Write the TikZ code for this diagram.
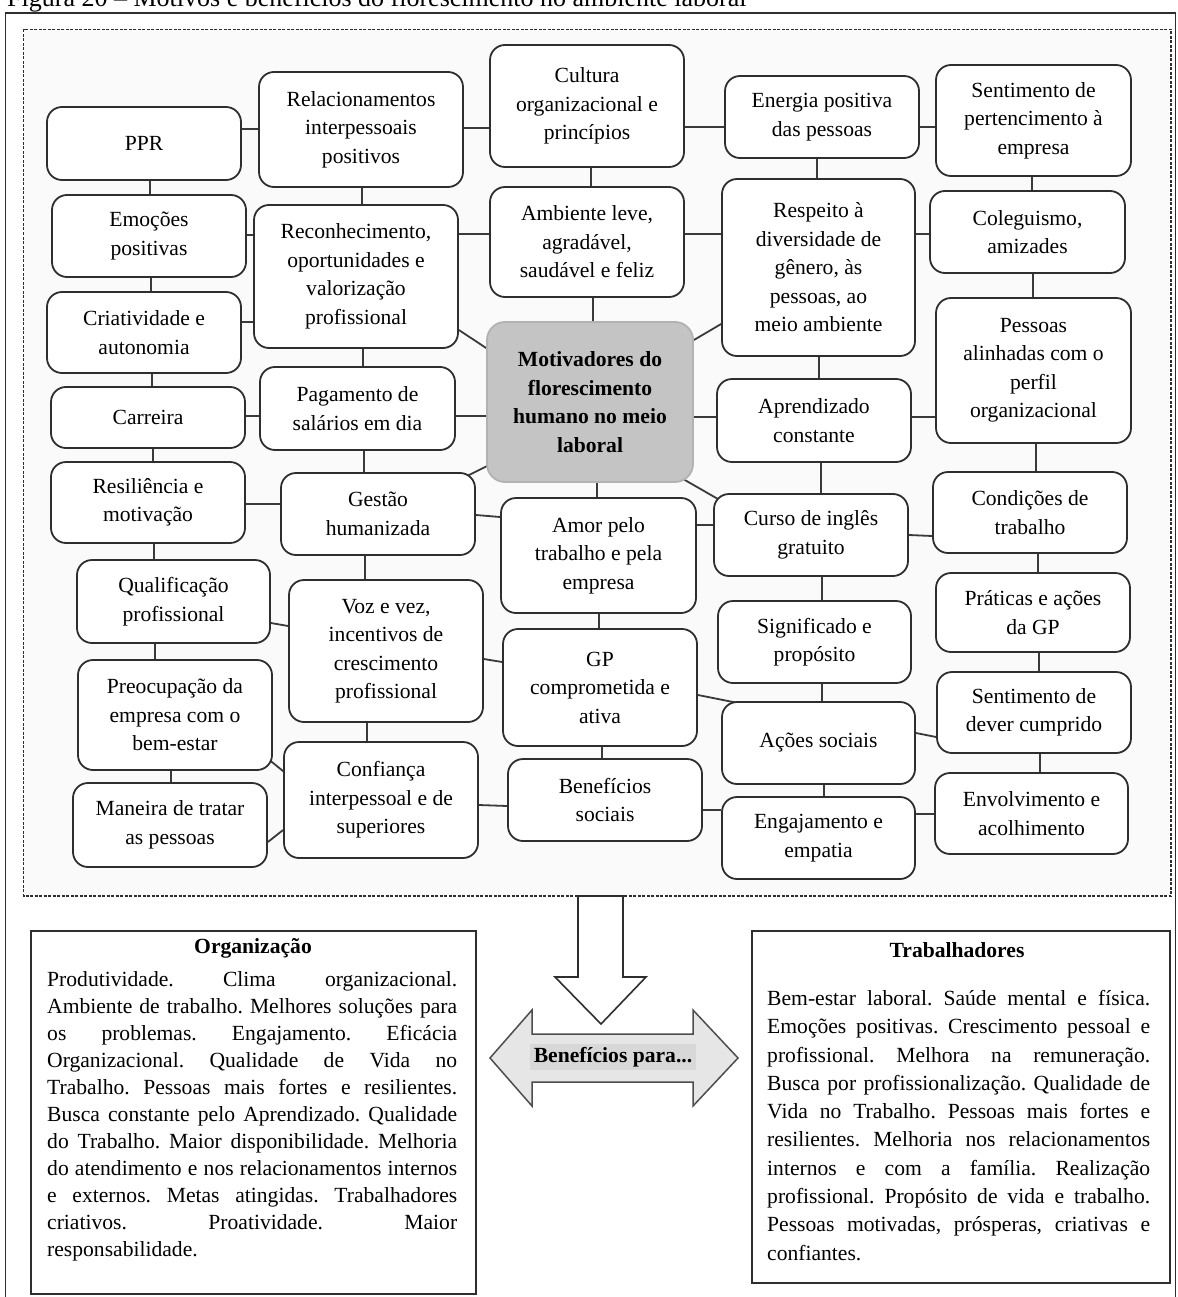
\documentclass[tikz,border=0pt]{standalone}
\usepackage{fontspec}
\setmainfont{Liberation Serif}
\usetikzlibrary{calc}

\definecolor{ink}{HTML}{2E2E2E}
\definecolor{linkc}{HTML}{3A3A3A}
\definecolor{hub}{HTML}{C4C4C4}
\definecolor{hubedge}{HTML}{B2B2B2}
\definecolor{panel}{HTML}{FAFAFA}
\definecolor{arrowfill}{HTML}{E6E6E6}
\definecolor{labelfill}{HTML}{D8D8D8}

\pgfdeclarelayer{back}
\pgfdeclarelayer{links}
\pgfsetlayers{back,links,main}

\tikzset{
  item/.style={draw=ink, line width=1.8pt, rounded corners=15pt, fill=white,
    align=center, inner sep=0pt, font=\fontsize{21.6}{28.5}\selectfont},
  hubbox/.style={item, draw=hubedge, fill=hub, rounded corners=18pt,
    font=\fontsize{21.6}{28.5}\selectfont\bfseries},
  link/.style={draw=linkc, line width=1.8pt},
  panelbox/.style={draw=ink, line width=1.8pt, fill=white, inner sep=0pt},
  bodytext/.style={anchor=north west, inner sep=0pt, align=left},
}

% \boxat[style]{name}{x1}{y1}{x2}{y2}{text}
\newcommand\boxat[7][item]{%
  \node[#1, minimum width={(#5-#3)*1pt}, minimum height={(#6-#4)*1pt}]
    (#2) at ({(#3+#5)/2},{(#4+#6)/2}) {#7};}

% one fully justified line of a given width
\newcommand\fullline[2]{\makebox[#1][s]{\frenchspacing
  \spaceskip=.25em plus 8em minus .05em\relax\xspaceskip=\spaceskip #2}}

\begin{document}
\begin{tikzpicture}[x=1pt,y=-1pt]
\useasboundingbox (0,0) rectangle (1177,1297);

% caption, running off the top edge
\node[anchor=base west, inner sep=0pt, font=\fontsize{26}{30}\selectfont]
  (caption) at (7,7) {Figura 20 -- Motivos e benefícios do florescimento no ambiente laboral};

% frames
\begin{pgfonlayer}{back}
  \draw[ink, line width=1.5pt] (5.5,1320) -- (5.5,13) -- (1175.5,13) -- (1175.5,1320);
  \draw[ink, line width=1.2pt, dash pattern=on 3pt off 1.5pt, fill=panel]
    (23.5,29.5) rectangle (1171,896);
\end{pgfonlayer}

% column 1
\boxat{ppr}{47}{107}{241}{180}{PPR}
\boxat{emo}{52}{195}{246}{277}{Emoções\\positivas}
\boxat{cri}{47}{292}{241}{373}{Criatividade e\\autonomia}
\boxat{car}{51}{387}{245}{448}{Carreira}
\boxat{res}{51}{462}{245}{543}{Resiliência e\\motivação}
\boxat{qua}{77}{560}{270}{643}{Qualificação\\profissional}
\boxat{pre}{78}{660}{272}{770}{Preocupação da\\empresa com o\\bem-estar}
\boxat{man}{73}{783}{267}{867}{Maneira de tratar\\as pessoas}

% column 2
\boxat{rel}{259}{72}{463}{187}{Relacionamentos\\interpessoais\\positivos}
\boxat{rec}{254}{205}{458}{348}{Reconhecimento,\\oportunidades e\\valorização\\profissional}
\boxat{pag}{260}{367}{455}{450}{Pagamento de\\salários em dia}
\boxat{ges}{281}{473}{475}{555}{Gestão\\humanizada}
\boxat{voz}{289}{580}{483}{722}{Voz e vez,\\incentivos de\\crescimento\\profissional}
\boxat{con}{284}{742}{478}{858}{Confiança\\interpessoal e de\\superiores}

% column 3
\boxat{cul}{490}{45}{684}{167}{Cultura\\organizacional e\\princípios}
\boxat{amb}{490}{187}{684}{297}{Ambiente leve,\\agradável,\\saudável e feliz}
\boxat[hubbox]{mot}{487}{322}{693}{482}{Motivadores do\\florescimento\\humano no meio\\laboral}
\boxat{amo}{501}{498}{696}{613}{Amor pelo\\trabalho e pela\\empresa}
\boxat{gp}{503}{629}{697}{746}{GP\\comprometida e\\ativa}
\boxat{ben}{508}{759}{702}{841}{Benefícios\\sociais}

% column 4
\boxat{ene}{725}{76}{919}{158}{Energia positiva\\das pessoas}
\boxat{rsp}{722}{179}{915}{356}{Respeito à\\diversidade de\\gênero, às\\pessoas, ao\\meio ambiente}
\boxat{apr}{717}{379}{911}{462}{Aprendizado\\constante}
\boxat{cur}{714}{494}{908}{576}{Curso de inglês\\gratuito}
\boxat{sig}{718}{601}{911}{683}{Significado e\\propósito}
\boxat{aco}{722}{702}{915}{784}{Ações sociais}
\boxat{eng}{722}{797}{915}{879}{Engajamento e\\empatia}

% column 5
\boxat{sen}{936}{65}{1131}{176}{Sentimento de\\pertencimento à\\empresa}
\boxat{col}{930}{191}{1125}{273}{Coleguismo,\\amizades}
\boxat{pes}{936}{298}{1131}{443}{Pessoas\\alinhadas com o\\perfil\\organizacional}
\boxat{cnd}{933}{472}{1127}{553}{Condições de\\trabalho}
\boxat{pra}{936}{573}{1130}{652}{Práticas e ações\\da GP}
\boxat{sdc}{937}{672}{1131}{753}{Sentimento de\\dever cumprido}
\boxat{env}{935}{773}{1128}{854}{Envolvimento e\\acolhimento}

% connectors
\begin{pgfonlayer}{links}
  % horizontal and slanted links
  \draw[link] (ppr.east |- 0,129) -- (rel.west |- 0,129);
  \draw[link] (rel.east |- 0,128) -- (cul.west |- 0,128);
  \draw[link] (cul.east |- 0,127) -- (ene.west |- 0,127);
  \draw[link] (ene.east |- 0,127) -- (sen.west |- 0,127);
  \draw[link] (emo.east |- 0,235) -- (rec.west |- 0,235);
  \draw[link] (rec.east |- 0,234) -- (amb.west |- 0,234);
  \draw[link] (amb.east |- 0,234) -- (rsp.west |- 0,234);
  \draw[link] (rsp.east |- 0,234) -- (col.west |- 0,234);
  \draw[link] (cri.east |- 0,322) -- (rec.west |- 0,322);
  \draw[link] (car.east |- 0,416) -- (pag.west |- 0,416);
  \draw[link] (pag.east |- 0,416) -- (mot.west |- 0,416);
  \draw[link] (mot.east |- 0,417) -- (apr.west |- 0,417);
  \draw[link] (apr.east |- 0,417) -- (pes.west |- 0,417);
  \draw[link] (res.east |- 0,504) -- (ges.west |- 0,504);
  \draw[link] (ges.east |- 0,515) -- (amo.west |- 0,517);
  \draw[link] (amo.east |- 0,525) -- (cur.west |- 0,525);
  \draw[link] (cur.east |- 0,535) -- (cnd.west |- 0,536);
  \draw[link] (qua.east |- 0,623) -- (voz.west |- 0,626);
  \draw[link] (voz.east |- 0,659) -- (gp.west |- 0,662);
  \draw[link] (gp.east |- 0,695) -- ($(aco.north west)+(15,1.5)$);
  \draw[link] (aco.east |- 0,733) -- (sdc.west |- 0,737);
  \draw[link] (con.east |- 0,805) -- (ben.west |- 0,806);
  \draw[link] (ben.east |- 0,810) -- (eng.west |- 0,810);
  \draw[link] (eng.east |- 0,814) -- (env.west |- 0,814);
  \draw[link] ($(pre.south east)+(-6,-13)$) -- ($(con.west |- 0,776)+(6,0)$);
  \draw[link] (man.east |- 0,842) -- (con.west |- 0,830);
  % links into the hub
  \draw[link] (rec.east |- 0,330) -- (mot.west |- 0,348);
  \draw[link] (mot.east |- 0,340) -- (rsp.west |- 0,324);
  \draw[link] ($(ges.north east)+(-11,5)$) -- ($(mot.west |- 0,466)+(1,0)$);
  \draw[link] ($(mot.south east)+(-11,-4)$) -- ($(cur.north west)+(12,10)$);
  % vertical links
  \draw[link] (ppr.south -| 150,0) -- (emo.north -| 150,0);
  \draw[link] (emo.south -| 151,0) -- (cri.north -| 151,0);
  \draw[link] (cri.south -| 152,0) -- (car.north -| 152,0);
  \draw[link] (car.south -| 153,0) -- (res.north -| 153,0);
  \draw[link] (res.south -| 154,0) -- (qua.north -| 154,0);
  \draw[link] (qua.south -| 155,0) -- (pre.north -| 155,0);
  \draw[link] (pre.south -| 171,0) -- (man.north -| 171,0);
  \draw[link] (rel.south -| 362,0) -- (rec.north -| 362,0);
  \draw[link] (rec.south -| 363,0) -- (pag.north -| 363,0);
  \draw[link] (pag.south -| 364,0) -- (ges.north -| 364,0);
  \draw[link] (ges.south -| 365,0) -- (voz.north -| 365,0);
  \draw[link] (voz.south -| 367,0) -- (con.north -| 367,0);
  \draw[link] (cul.south -| 591,0) -- (amb.north -| 591,0);
  \draw[link] (amb.south -| 593,0) -- (mot.north -| 593,0);
  \draw[link] (mot.south -| 597,0) -- (amo.north -| 597,0);
  \draw[link] (amo.south -| 599,0) -- (gp.north -| 599,0);
  \draw[link] (gp.south -| 602,0) -- (ben.north -| 602,0);
  \draw[link] (ene.south -| 817,0) -- (rsp.north -| 817,0);
  \draw[link] (rsp.south -| 819,0) -- (apr.north -| 819,0);
  \draw[link] (apr.south -| 821,0) -- (cur.north -| 821,0);
  \draw[link] (cur.south -| 822,0) -- (sig.north -| 822,0);
  \draw[link] (sig.south -| 822,0) -- (aco.north -| 822,0);
  \draw[link] (aco.south -| 824,0) -- (eng.north -| 824,0);
  \draw[link] (sen.south -| 1032,0) -- (col.north -| 1032,0);
  \draw[link] (col.south -| 1033,0) -- (pes.north -| 1033,0);
  \draw[link] (pes.south -| 1036,0) -- (cnd.north -| 1036,0);
  \draw[link] (cnd.south -| 1038,0) -- (pra.north -| 1038,0);
  \draw[link] (pra.south -| 1039,0) -- (sdc.north -| 1039,0);
  \draw[link] (sdc.south -| 1040,0) -- (env.north -| 1040,0);
\end{pgfonlayer}

% arrow down out of the map
\draw[ink, line width=1.6pt, fill=white]
  (578,896) -- (578,977) -- (555,977) -- (601,1024) -- (646,977) -- (623,977) -- (623,896) -- cycle;

% two-headed arrow with its label
\draw[ink!85, line width=1.5pt, fill=arrowfill]
  (490,1058) -- (532,1010) -- (532,1034) -- (693,1034) -- (693,1010) -- (738,1058)
  -- (693,1106) -- (693,1082) -- (532,1082) -- (532,1106) -- cycle;
\node[fill=labelfill, inner xsep=4pt, inner ysep=3pt,
      font=\fontsize{21.6}{26}\selectfont\bfseries] (benefit) at (613,1057) {Benefícios para...};

% panel: organisation
\node[panelbox, minimum width=445pt, minimum height=363pt, anchor=north west] (org) at (30,930) {};
\node[font=\fontsize{21.6}{26}\selectfont\bfseries] (orgtitle) at (253,948) {Organização};
\node[bodytext, text width=410pt, font=\fontsize{21.6}{27}\selectfont] (orgtext) at (47,971) {%
\fullline{410pt}{Produtividade. Clima organizacional.}\\
\fullline{410pt}{Ambiente de trabalho. Melhores soluções para}\\
\fullline{410pt}{os problemas. Engajamento. Eficácia}\\
\fullline{410pt}{Organizacional. Qualidade de Vida no}\\
\fullline{410pt}{Trabalho. Pessoas mais fortes e resilientes.}\\
\fullline{410pt}{Busca constante pelo Aprendizado. Qualidade}\\
\fullline{410pt}{do Trabalho. Maior disponibilidade. Melhoria}\\
\fullline{410pt}{do atendimento e nos relacionamentos internos}\\
\fullline{410pt}{e externos. Metas atingidas. Trabalhadores}\\
\fullline{410pt}{criativos. Proatividade. Maior}\\
responsabilidade.};

% panel: workers
\node[panelbox, minimum width=418pt, minimum height=352pt, anchor=north west] (wrk) at (751,930) {};
\node[font=\fontsize{21.6}{26}\selectfont\bfseries] (wrktitle) at (957,950) {Trabalhadores};
\node[bodytext, text width=383pt, font=\fontsize{21.6}{28.3}\selectfont] (wrktext) at (767,990) {%
\fullline{383pt}{Bem-estar laboral. Saúde mental e física.}\\
\fullline{383pt}{Emoções positivas. Crescimento pessoal e}\\
\fullline{383pt}{profissional. Melhora na remuneração.}\\
\fullline{383pt}{Busca por profissionalização. Qualidade de}\\
\fullline{383pt}{Vida no Trabalho. Pessoas mais fortes e}\\
\fullline{383pt}{resilientes. Melhoria nos relacionamentos}\\
\fullline{383pt}{internos e com a família. Realização}\\
\fullline{383pt}{profissional. Propósito de vida e trabalho.}\\
\fullline{383pt}{Pessoas motivadas, prósperas, criativas e}\\
confiantes.};

\end{tikzpicture}
\end{document}
